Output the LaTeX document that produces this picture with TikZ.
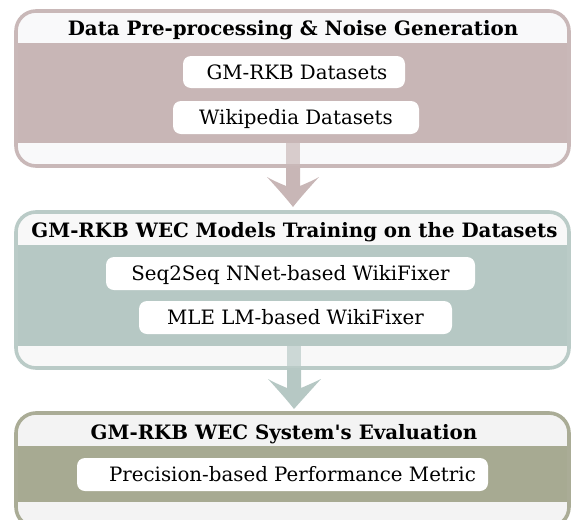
\documentclass[tikz,border=0pt]{standalone}
\usepackage{fontspec}
\setmainfont{DejaVu Serif}
\begin{document}
\begin{tikzpicture}[x=1pt,y=-1pt,
  hdr/.style={font=\bfseries\fontsize{19.8}{22}\selectfont, inner sep=0pt, text height=14.5pt, text depth=0pt},
  item/.style={fill=white, rounded corners=8pt, inner sep=0pt, text height=14.5pt, text depth=0pt, font=\fontsize{19.8}{22}\selectfont},
  frame/.style={line width=3.6pt, rounded corners=20pt},
]
\definecolor{cA}{RGB}{200,182,182}
\definecolor{cAb}{RGB}{201,184,184}
\definecolor{cB}{RGB}{182,200,196}
\definecolor{cBb}{RGB}{186,203,199}
\definecolor{cC}{RGB}{167,170,146}
\definecolor{cCb}{RGB}{170,172,150}
\definecolor{hA}{RGB}{249,249,250}
\definecolor{hB}{RGB}{248,248,248}
\definecolor{hC}{RGB}{243,243,243}
\useasboundingbox (0,0) rectangle (571,520);

% ---------- Box 1 ----------
\coordinate (b1nw) at (16,11);
\coordinate (b1se) at (569,166);
\fill[hA, rounded corners=20pt] (b1nw) rectangle (b1se);
\fill[cA] (16,43) rectangle (569,143);
\fill[cA!70!white] (286,143) rectangle (300,166);
\draw[cAb, frame] (b1nw) rectangle (b1se);
\node[hdr] (t1) at (293,27.75) {Data Pre-processing \& Noise Generation};
\node[item, minimum width=222pt, minimum height=32pt] (i11) at (294,72) {\hspace*{6pt}GM-RKB Datasets};
\node[item, minimum width=246pt, minimum height=33pt] (i12) at (296,117.5) {Wikipedia Datasets};

% ---------- Box 2 ----------
\coordinate (b2nw) at (16,212);
\coordinate (b2se) at (569,368);
\fill[hB, rounded corners=20pt] (b2nw) rectangle (b2se);
\fill[cB] (16,245) rectangle (569,346);
\fill[cB!70!white] (287,346) rectangle (301,368);
\draw[cBb, frame] (b2nw) rectangle (b2se);
\node[hdr] (t2) at (294.5,229.75) {GM-RKB WEC Models Training on the Datasets};
\node[item, minimum width=369pt, minimum height=33pt] (i21) at (290.5,273.5) {Seq2Seq NNet-based WikiFixer};
\node[item, minimum width=313pt, minimum height=33pt] (i22) at (295.5,317.5) {MLE LM-based WikiFixer};

% ---------- Box 3 ----------
\coordinate (b3nw) at (16,413);
\coordinate (b3se) at (569,527);
\fill[hC, rounded corners=20pt] (b3nw) rectangle (b3se);
\fill[cC] (16,446) rectangle (569,502);
\draw[cCb, frame] (b3nw) rectangle (b3se);
\node[hdr] (t3) at (284,432.5) {GM-RKB WEC System\textquotesingle s Evaluation};
\node[item, minimum width=411pt, minimum height=33pt] (i31) at (282.5,474.5) {\hspace*{20pt}Precision-based Performance Metric};

% ---------- Arrows ----------
\fill[cA] (286,166) -- (300,166) -- (300,186)
  .. controls (307,183) and (314,180) .. (319,177)
  .. controls (309,188) and (300,198) .. (293,207)
  .. controls (286,198) and (277,188) .. (267,177)
  .. controls (272,180) and (279,183) .. (286,186) -- cycle;
\fill[cB] (287,368) -- (301,368) -- (301,388)
  .. controls (308,385) and (315,382) .. (321,379)
  .. controls (311,390) and (302,400) .. (294,409)
  .. controls (287,400) and (278,390) .. (268,379)
  .. controls (273,382) and (280,385) .. (287,388) -- cycle;
\end{tikzpicture}
\end{document}
